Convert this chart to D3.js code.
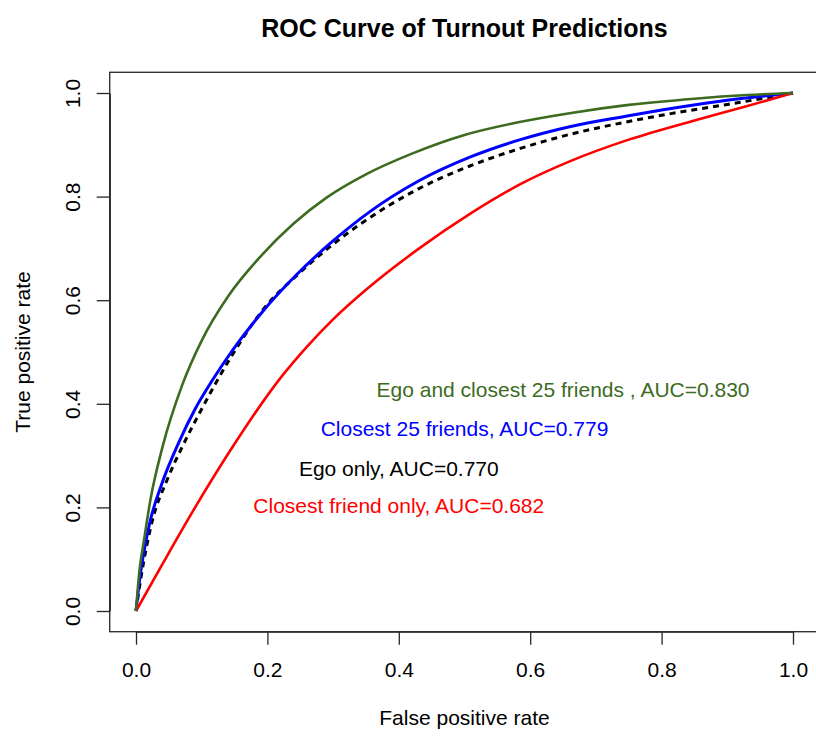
<!DOCTYPE html>
<html>
<head>
<meta charset="utf-8">
<script src="https://cdn.jsdelivr.net/npm/d3@7"></script>
<style>
  html, body { margin: 0; padding: 0; background: #fff; }
  svg { display: block; }
  text { font-family: "Liberation Sans", Arial, Helvetica, sans-serif; }
</style>
</head>
<body>
<svg id="chart" width="816" height="736"></svg>
<script>
// ROC curves: false positive rate vs true positive rate for four predictors
const egoFriendsFpr = [0, 0.005, 0.012, 0.022, 0.04, 0.07, 0.10, 0.14, 0.19, 0.24, 0.29, 0.35, 0.42, 0.50, 0.58, 0.66, 0.75, 0.85, 0.93, 1.0];
const egoFriendsTpr = [0, 0.075, 0.135, 0.215, 0.315, 0.435, 0.522, 0.607, 0.685, 0.748, 0.798, 0.843, 0.883, 0.919, 0.943, 0.961, 0.977, 0.989, 0.996, 1.0];

const friendsFpr = [0, 0.006, 0.02, 0.04, 0.065, 0.09, 0.115, 0.145, 0.19, 0.245, 0.295, 0.355, 0.43, 0.51, 0.585, 0.66, 0.75, 0.80, 0.90, 1.0];
const friendsTpr = [0, 0.065, 0.165, 0.248, 0.325, 0.39, 0.443, 0.500, 0.574, 0.650, 0.709, 0.770, 0.830, 0.877, 0.910, 0.935, 0.956, 0.967, 0.986, 1.0];

const egoFpr = [0, 0.007, 0.025, 0.047, 0.07, 0.10, 0.143, 0.20, 0.245, 0.295, 0.345, 0.43, 0.51, 0.585, 0.66, 0.75, 0.80, 0.90, 0.97, 1.0];
const egoTpr = [0, 0.06, 0.175, 0.252, 0.316, 0.39, 0.487, 0.592, 0.648, 0.703, 0.750, 0.815, 0.860, 0.893, 0.920, 0.945, 0.957, 0.978, 0.993, 1.0];

const closestFpr = [0, 0.04, 0.09, 0.14, 0.18, 0.22, 0.26, 0.30, 0.35, 0.43, 0.51, 0.585, 0.66, 0.75, 0.85, 0.925, 1.0];
const closestTpr = [0, 0.090, 0.200, 0.303, 0.380, 0.450, 0.510, 0.563, 0.620, 0.699, 0.768, 0.824, 0.868, 0.910, 0.947, 0.973, 1.0];

const seriesNames = ["Ego only", "Closest 25 friends", "Closest friend only", "Ego and closest 25 friends "];
const aucValues = [0.770, 0.779, 0.682, 0.830];
const tickValues = [0, 0.2, 0.4, 0.6, 0.8, 1.0];

// where each AUC annotation is centred, in data units
const labelX = [0.40, 0.50, 0.40, 0.65];
const labelY = [0.275, 0.352, 0.204, 0.428];

const series = [
  { fpr: egoFpr, tpr: egoTpr, color: "#000000", width: 3, dash: "6,5" },
  { fpr: friendsFpr, tpr: friendsTpr, color: "#0000ff", width: 3, dash: null },
  { fpr: closestFpr, tpr: closestTpr, color: "#ff0000", width: 2.6, dash: null },
  { fpr: egoFriendsFpr, tpr: egoFriendsTpr, color: "#3d6b1f", width: 2.6, dash: null }
];

const svg = d3.select("#chart");
const x = d3.scaleLinear().domain([0, 1]).range([136, 793]);
const y = d3.scaleLinear().domain([0, 1]).range([611, 93]);
const pad = 0.04;
const frameL = x(-pad), frameR = x(1 + pad), frameT = y(1 + pad), frameB = y(-pad);
const axisColor = "#262626";

// plot frame
svg.append("rect")
  .attr("x", frameL).attr("y", frameT)
  .attr("width", frameR - frameL).attr("height", frameB - frameT)
  .attr("fill", "none").attr("stroke", axisColor).attr("stroke-width", 1.3);

// x axis
const xAxis = svg.append("g")
  .attr("transform", `translate(0,${frameB})`)
  .call(d3.axisBottom(x).tickValues(tickValues).tickSize(13).tickSizeOuter(0).tickFormat(d3.format(".1f")));
xAxis.select(".domain").attr("stroke", axisColor).attr("stroke-width", 1.3);
xAxis.selectAll(".tick line").attr("stroke", axisColor).attr("stroke-width", 1.3);
xAxis.selectAll(".tick text")
  .attr("y", 45).attr("dy", 0)
  .attr("fill", "#000").attr("font-size", 21)
  .style("font-family", "'Liberation Sans', Arial, sans-serif");

// y axis with rotated labels
const yAxis = svg.append("g")
  .attr("transform", `translate(${frameL},0)`)
  .call(d3.axisLeft(y).tickValues(tickValues).tickSize(13).tickSizeOuter(0).tickFormat(d3.format(".1f")));
yAxis.select(".domain").attr("stroke", axisColor).attr("stroke-width", 1.3);
yAxis.selectAll(".tick line").attr("stroke", axisColor).attr("stroke-width", 1.3);
yAxis.selectAll(".tick text")
  .attr("transform", "rotate(-90)")
  .attr("x", 0).attr("y", -30).attr("dy", 0)
  .attr("text-anchor", "middle")
  .attr("fill", "#000").attr("font-size", 21)
  .style("font-family", "'Liberation Sans', Arial, sans-serif");

// curves
const line = d3.line()
  .x(d => x(d[0]))
  .y(d => y(d[1]))
  .curve(d3.curveMonotoneX);

series.forEach(s => {
  const pts = s.fpr.map((f, i) => [f, s.tpr[i]]);
  svg.append("path")
    .datum(pts)
    .attr("d", line)
    .attr("fill", "none")
    .attr("stroke", s.color)
    .attr("stroke-width", s.width)
    .attr("stroke-dasharray", s.dash)
    .attr("stroke-linejoin", "round");
});

// AUC annotations
seriesNames.forEach((name, i) => {
  svg.append("text")
    .attr("x", x(labelX[i]))
    .attr("y", y(labelY[i]) + 7.5)
    .attr("text-anchor", "middle")
    .attr("font-size", 21)
    .attr("fill", series[i].color)
    .text(`${name}, AUC=${aucValues[i].toFixed(3)}`);
});

// titles
svg.append("text")
  .attr("x", (x(0) + x(1)) / 2).attr("y", 36.5)
  .attr("text-anchor", "middle")
  .attr("font-size", 25).attr("font-weight", "bold")
  .text("ROC Curve of Turnout Predictions");

svg.append("text")
  .attr("x", (x(0) + x(1)) / 2).attr("y", 725)
  .attr("text-anchor", "middle")
  .attr("font-size", 21)
  .text("False positive rate");

svg.append("text")
  .attr("transform", `translate(30,${(y(0) + y(1)) / 2}) rotate(-90)`)
  .attr("text-anchor", "middle")
  .attr("font-size", 21)
  .text("True positive rate");
</script>
</body>
</html>
